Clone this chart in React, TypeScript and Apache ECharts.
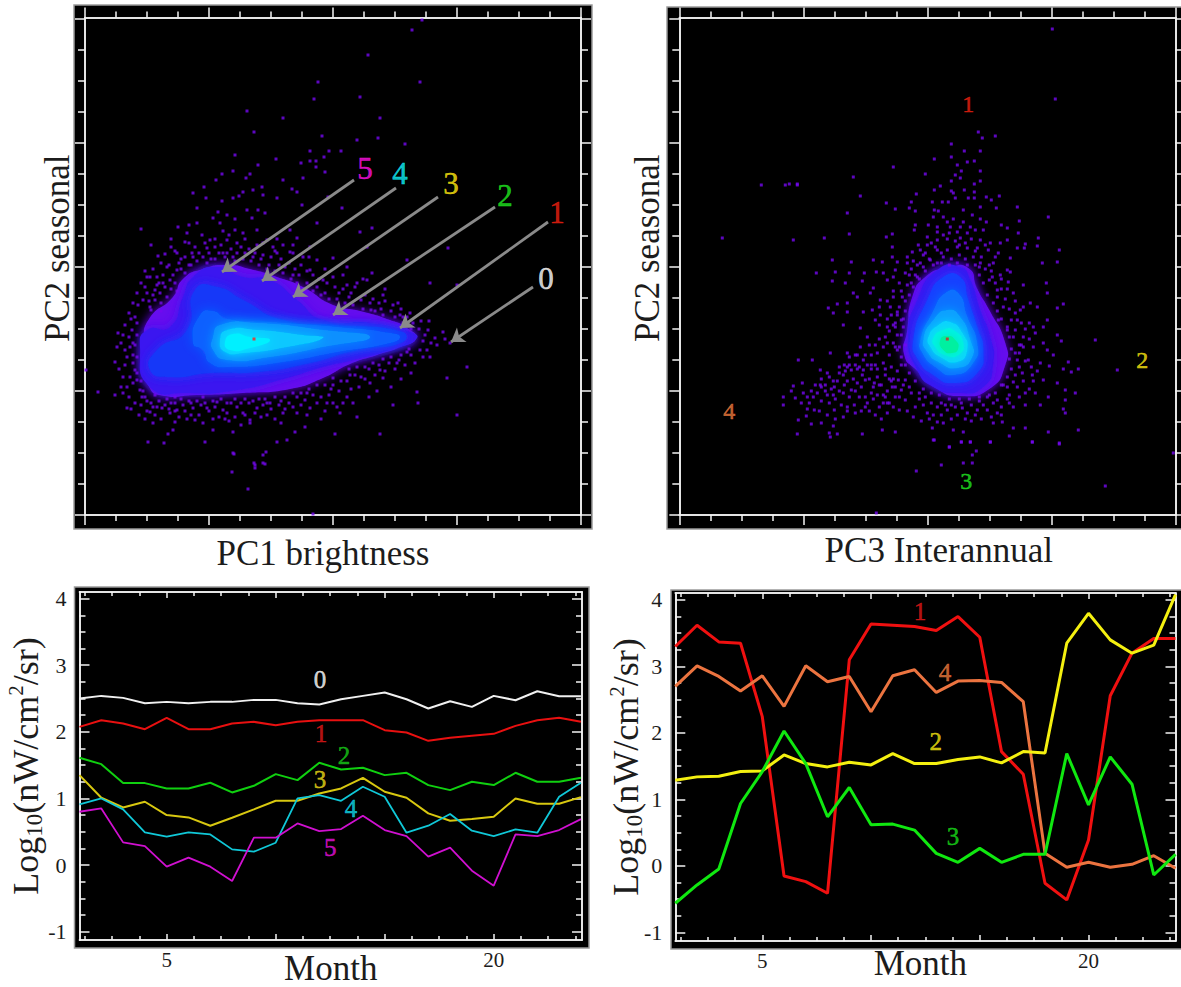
import React, { useEffect, useRef } from "react";
import * as echarts from "echarts";

const SERIF = "Liberation Serif";
const INK = "#1c1c1c";
const DOT = "#7408f0";

// ---- bottom panels: months and values ----
const months = [1, 2, 3, 4, 5, 6, 7, 8, 9, 10, 11, 12, 13, 14, 15, 16, 17, 18, 19, 20, 21, 22, 23, 24];
const c0 = [2.5, 2.54, 2.51, 2.43, 2.45, 2.43, 2.45, 2.45, 2.48, 2.48, 2.43, 2.41, 2.49, 2.54, 2.59, 2.49, 2.35, 2.46, 2.375, 2.54, 2.475, 2.61, 2.535, 2.535];
const c1 = [2.075, 2.175, 2.125, 2.04, 2.21, 2.04, 2.04, 2.125, 2.15, 2.1, 2.15, 2.175, 2.175, 2.175, 2.025, 1.99, 1.865, 1.91, 1.94, 1.97, 2.09, 2.175, 2.21, 2.15];
const c2 = [1.61, 1.515, 1.23, 1.23, 1.15, 1.15, 1.235, 1.09, 1.19, 1.365, 1.275, 1.535, 1.435, 1.46, 1.35, 1.385, 1.2, 1.125, 1.25, 1.2, 1.385, 1.25, 1.25, 1.31];
const c3 = [1.35, 1.01, 0.865, 0.95, 0.75, 0.715, 0.59, 0.71, 0.835, 0.965, 0.965, 1.075, 1.15, 1.31, 1.1, 1.01, 0.775, 0.665, 0.69, 0.725, 1.0, 0.92, 0.92, 1.02];
const c4 = [0.91, 1.0, 0.835, 0.49, 0.425, 0.49, 0.46, 0.235, 0.2, 0.335, 1.0, 1.05, 0.965, 1.175, 1.025, 0.485, 0.59, 0.765, 0.515, 0.435, 0.535, 0.485, 1.025, 1.235];
const c5 = [0.8, 0.85, 0.34, 0.285, -0.025, 0.11, -0.025, -0.24, 0.41, 0.41, 0.625, 0.51, 0.54, 0.74, 0.525, 0.435, 0.125, 0.26, -0.085, -0.31, 0.46, 0.435, 0.525, 0.69];
const d1 = [3.3, 3.62, 3.37, 3.35, 2.245, -0.15, -0.235, -0.41, 3.1, 3.64, 3.62, 3.6, 3.54, 3.75, 3.44, 1.72, 1.38, -0.26, -0.51, 0.39, 2.56, 3.2, 3.42, 3.42];
const d4 = [2.7, 3.01, 2.85, 2.63, 2.86, 2.4, 3.01, 2.77, 2.85, 2.32, 2.86, 2.95, 2.61, 2.78, 2.79, 2.76, 2.47, 0.19, -0.02, 0.055, -0.02, 0.025, 0.155, -0.035];
const d2 = [1.29, 1.34, 1.35, 1.42, 1.43, 1.67, 1.54, 1.49, 1.56, 1.52, 1.69, 1.54, 1.54, 1.6, 1.64, 1.55, 1.72, 1.7, 3.35, 3.8, 3.4, 3.2, 3.32, 4.08];
const d3 = [-0.56, -0.285, -0.045, 0.94, 1.42, 2.03, 1.54, 0.74, 1.18, 0.62, 0.63, 0.54, 0.19, 0.055, 0.265, 0.055, 0.175, 0.175, 1.69, 0.92, 1.64, 1.23, -0.135, 0.175];

const monthMajor = [5, 10, 15, 20];
const monthMinor = [1.25, 2.5, 3.75, 6.25, 7.5, 8.75, 11.25, 12.5, 13.75, 16.25, 17.5, 18.75, 21.25, 22.5, 23.75];
const monthLabels = [5, 20];
const logMajor = [-1, 0, 1, 2, 3, 4];
const logMinor = [-0.75, -0.5, -0.25, 0.25, 0.5, 0.75, 1.25, 1.5, 1.75, 2.25, 2.5, 2.75, 3.25, 3.5, 3.75];

// ---- top panels: score ticks (arbitrary units) ----
const scoreMajor = [0, 124, 248, 372, 496];
const scoreMinor = [31, 62, 93, 155, 186, 217, 279, 310, 341, 403, 434, 465];

// ---- density levels read from the cloud ----
const levelColorsA = ["#6610ee", "#3a18f0", "#1438f8", "#0a60ff", "#0a90ff", "#08c8ff", "#00f0ff"];
const levelsA = [
  [[58,172],[64,196],[88,218],[98,236],[118,246],[142,250],[165,246],[192,238],[218,228],[248,210],[275,204],[305,195],[322,187],[331,177],[318,169],[292,160],[265,151],[238,137],[205,126],[158,122],[112,120],[74,120],[63,130],[56,148]],
  [[55,168],[62,185],[85,188],[98,218],[108,238],[132,248],[158,238],[185,235],[212,215],[238,195],[285,192],[318,185],[332,177],[305,165],[268,155],[238,148],[202,137],[152,125],[102,122],[65,128]],
  [[72,165],[102,185],[110,225],[132,228],[158,215],[198,195],[252,190],[318,183],[318,173],[272,165],[225,152],[172,143],[125,142],[85,138],[65,145]],
  [[108,172],[115,200],[128,204],[142,196],[185,193],[252,188],[305,182],[315,178],[305,172],[252,163],[198,153],[145,148],[125,152],[118,165]],
  [[128,178],[135,190],[172,192],[238,185],[285,178],[238,168],[185,158],[142,155],[128,165]],
  [[135,175],[142,185],[172,185],[218,180],[238,177],[202,168],[158,162],[140,163]],
  [[140,173],[148,181],[165,178],[185,175],[165,167],[145,165]],
];
const levelColorsB = ["#6610ee", "#3a18f0", "#1440ff", "#0a70ff", "#0aa0ff", "#08d0ff", "#00f0e8", "#00f0a0"];
const levelsB = [
  [[228,185],[233,218],[246,238],[268,247],[289,247],[298,226],[310,205],[326,172],[326,150],[310,126],[281,119],[258,126],[237,145],[225,160]],
  [[229,178],[238,215],[258,245],[281,248],[291,235],[301,205],[311,178],[314,152],[304,128],[278,122],[254,128],[238,145]],
  [[234,175],[248,215],[264,238],[281,238],[289,215],[298,188],[304,165],[298,142],[274,132],[254,140],[239,155]],
  [[241,175],[253,202],[266,222],[279,222],[288,198],[298,172],[294,152],[274,140],[256,148],[243,162]],
  [[244,175],[254,195],[268,205],[281,198],[291,175],[293,158],[278,147],[259,153],[248,163]],
  [[249,178],[259,190],[271,193],[283,182],[288,165],[278,153],[261,158],[251,168]],
  [[254,177],[264,185],[274,185],[284,172],[279,160],[266,160],[256,168]],
  [[261,175],[268,179],[276,175],[279,167],[273,162],[264,165]],
];

// ---- individual sparse pixels read from the clouds ----
const pointsA = [[337,495],[327,485],[283,460],[233,433],[335,433],[275,418],[229,416],[162,404],[198,397],[295,397],[169,383],[237,379],[272,375],[293,377],[320,371],[225,364],[244,364],[256,364],[150,360],[239,358],[191,356],[225,354],[231,354],[216,352],[173,350],
[231,348],[240,343],[148,344],[137,341],[131,335],[161,337],[165,341],[198,335],[218,337],[207,326],[212,323],[119,328],[108,322],[158,323],[168,325],[177,328],[178,320],[148,317],[121,317],[154,319],[192,317],[243,318],[137,314],[173,305],[162,305],[180,302],[112,307],[133,303],[142,300],[167,297],[217,310],[232,292],[257,307],[56,286],[93,288],[128,297],[112,292],[135,292],[150,285],[158,282],[172,285],[205,285],[212,277],[287,287],[275,283],[102,282],[100,273],[117,280],[125,275],[142,275],[152,272],[182,275],[198,270],[225,268],[282,268],[363,267],[248,257],[73,259],[80,261],[92,262],[107,262],[122,267],[172,270],[188,268],[205,263],[218,258],[232,255],[262,248],[287,242],[322,255],[345,232],[372,230],[82,248],[92,245],[100,242],[85,235],[72,230],[62,238],[65,238],[60,228],[75,222],[53,210],[65,208],[225,245],[238,235],[248,238],[262,230],[270,228],[282,235],[298,220],[313,212],[325,202],[318,198],[285,212],[33,182],[47,185],[50,198],[48,172],[40,165],[45,168],[30,153],[1,145],[30,120],[13,123],[38,122],[45,138],[48,132],[42,107],[57,118],[65,103],[77,107],[85,102],[90,93],[98,110],[108,107],[110,95],[122,107],[132,113],[142,102],[152,108],[165,95],[158,102],[172,107],[185,112],[198,102],[212,102],[225,107],[242,112],[255,102],[272,98],[262,118],[248,137],[265,140],[285,132],[298,137],[308,110],[332,123],[333,112],[362,137],[372,100],[382,148],[350,177],[358,183],[343,185],[365,172],[342,165],[345,158],[335,165],[322,163],[312,152],[295,145],
[63,73],[79,72],[88,85],[83,81],[120,73],[128,85],[148,83],[165,92],[192,73],[202,75],[220,88],[210,83],[250,81],[295,81],[148,62],[181,63],[178,60],[169,52],[178,52],[163,26],[228,1],[147,43],[170,50],[170,47],[180,51],[149,61],
[58,215],[62,222],[70,225],[74,232],[80,228],[88,240],[94,252],[100,258],[108,258],[114,262],[124,262],[130,268],[138,262],[146,266],[152,262],[160,262],[168,258],[176,256],[184,250],[194,250],[200,248],[208,240],[214,240],[222,232],[232,228],[240,222],[254,222],[264,218],[276,215],[286,205],[296,206],[306,204],[315,200],[48,160],[50,145],[52,135],[55,125],[60,118],[66,112],[72,108],[80,110],[86,112],[92,105],[100,104],[106,112],[116,110],[124,104],[130,108],[138,105],[146,112],[156,112],[164,112],[170,102],[178,110],[186,106],[194,110],[204,112],[212,118],[220,115],[228,120],[236,118],[246,126],[254,124],[262,134],[270,140],[276,138],[284,146],[294,150],[304,152],[314,155],[326,160],
[70,215],[76,212],[66,205],[72,238],[78,240],[86,226],[90,232],[84,250],[96,256],[90,264],[104,250],[110,268],[118,258],[126,256],[134,262],[142,262],[136,270],[148,258],[156,268],[164,266],[170,262],[178,260],[186,258],[190,264],[196,256],[204,252],[210,246],[216,250],[222,244],[228,240],[234,236],[242,232],[250,228],[258,226],[266,222],[272,232],[280,220],[288,216],[294,212],[300,214],[308,210],[316,206],[322,198],[328,192],[334,186],[340,180],[346,172],[338,174],[130,276],[144,280],[160,276],[178,272],[192,262],[208,270],[120,272],[104,272],[86,268],[76,252],[68,246],[60,244],[56,232],[52,222],[48,212],[44,202],[52,192],[40,190],[44,178],[36,172],[42,158],[34,146],[38,138],[42,128],[44,118],[50,112],[56,110],[62,104],[70,100],[76,96],[84,106],[94,98],[102,96],[114,100],[118,92],[128,96],[134,98],[144,94],[150,98],[160,100],[176,98],[182,100],[190,96],[200,106],[208,108],[216,110],[222,100],[232,112],[240,104],[248,112],[258,112],[266,126],[274,128],[280,136],[290,140],[300,144],[310,146],[320,150],[330,152],[338,158],[118,118],[90,118],[70,120],[180,116],[200,118],[222,122],
[64,214],[68,220],[82,218],[92,224],[96,246],[106,250],[112,254],[122,252],[130,256],[140,258],[150,254],[158,256],[166,254],[174,250],[182,246],[190,244],[198,242],[206,236],[212,232],[220,226],[228,224],[236,220],[244,216],[252,216],[260,212],[268,210],[278,206],[290,204],[298,200],[310,198],[318,192],[326,186],[52,180],[50,170],[52,158],[48,152],[52,142],[56,134],[58,124],[62,114],[68,108],[74,114],[82,116],[90,112],[96,116],[104,114],[112,114],[120,112],[128,114],[136,116],[142,112],[150,116],[160,116],[168,114],[174,116],[182,112],[190,118],[196,114],[208,122],[216,122],[224,126],[232,130],[240,130],[248,130],[256,134],[264,146],[272,148],[280,148],[288,152],[298,156],[306,158],[316,160],[324,166],[76,204],[78,232],[46,196],[38,180],[32,168],[40,150],[36,128],[46,106],[54,100],[60,96],[68,92],[90,104],[106,100],[140,96],[156,90],[196,92],[236,96],[244,120],[252,108],[268,112],[284,118],[292,124],[316,136],[326,142],[306,128],[352,170],[360,176],[336,194],[344,194],[300,226],[278,236],[258,240],[240,246],[224,258],[208,262],[192,276],[150,296],[138,284],[104,290],[86,276],[66,270]];

const pointsB = [[299,383],[303,377],[316,379],[272,371],[285,364],[301,364],[255,356],[272,358],[278,350],[288,353],[295,354],[214,348],[301,344],[282,344],[276,340],[246,341],[174,338],[281,337],[272,334],[301,334],[295,331],[110,331],[118,331],[285,325],[261,329],[255,325],[272,324],[295,323],[237,321],[181,319],[274,322],[307,318],[320,319],[289,317],[295,317],[276,317],[312,315],[232,313],[207,312],[253,313],[263,313],[269,313],[301,308],[338,308],[317,307],[216,306],[230,307],[236,304],[259,304],[255,305],[284,305],[293,300],[168,302],[369,298],[254,298],[264,298],[274,296],[284,293],[301,296],[340,294],[307,293],[236,290],[249,290],[268,293],[258,288],[271,288],[281,288],[291,288],[322,290],[328,287],[235,285],[258,283],[264,280],[278,283],[288,282],[296,285],[304,285],[339,282],[170,281],[207,278],[213,281],[145,277],[114,275],[248,278],[258,275],[281,277],[301,275],[328,275],[346,271],[359,277],[380,265],[358,269],[321,272],[311,272],[239,270],[248,270],[213,268],[233,263],[241,265],[258,265],[268,265],[278,268],[288,267],[298,267],[309,265],[319,262],[331,257],[338,267],[345,267],[153,255],[172,253],[194,255],[203,253],[213,258],[218,253],[228,252],[241,252],[251,255],[301,252],[314,252],[328,245],[363,252],[378,253],[137,242],[156,243],[170,242],[185,242],[197,243],[204,242],[216,245],[226,242],[153,234],[166,232],[183,234],[194,227],[208,235],[214,238],[313,238],[321,240],[331,243],[329,233],[344,230],[367,232],[174,222],[149,207],[158,211],[168,212],[178,218],[191,222],[201,215],[214,218],[223,218],[184,203],[193,205],[201,200],[211,208],[218,203],[168,203],[154,202],[164,190],[181,187],[196,195],[208,188],[216,188],[318,218],[334,222],[341,205],[351,212],[368,222],[384,211],[378,207],[358,208],[338,195],[354,188],[368,195],[364,188],[319,195],[328,185],[334,178],[344,178],[356,182],[378,180],[382,174],[364,172],[368,165],[374,160],[354,168],[344,168],[336,162],[349,155],[361,152],[370,149],[384,146],[389,153],[392,143],[399,146],[343,142],[353,140],[364,135],[378,132],[334,133],[328,128],[356,122],[369,118],[386,125],[396,122],[386,115],[361,110],[346,110],[384,106],[386,102],[334,108],[318,102],[308,105],[298,105],[283,107],[268,105],[258,108],[248,102],[236,108],[220,105],[323,93],[314,92],[334,87],[346,87],[353,73],[369,83],[399,85],[380,72],[330,79],[311,73],[291,73],[282,73],[270,68],[255,75],[284,83],[274,85],[264,92],[258,93],[253,87],[216,83],[203,85],[183,81],[158,81],[150,82],[151,78],[118,81],[154,89],[142,92],[132,91],[119,95],[127,99],[135,105],[128,118],[116,117],[104,118],[104,110],[124,122],[114,129],[123,132],[141,130],[119,155],[133,155],[141,145],[151,162],[168,162],[181,168],[190,170],[198,162],[208,172],[216,168],
[254,75],[270,68],[282,73],[291,73],[311,73],[353,73],[380,71],[297,64],[293,60],[284,52],[293,52],[262,50],[237,44],[426,29],[197,2],[494,62],[373,486],[376,416],[82,330],[106,330],[118,330],[43,277],[438,145],[416,175],
[146,130],[150,138],[155,128],[160,148],[165,150],[170,158],[172,145],[176,160],[180,148],[184,155],[188,150],[192,146],[195,132],[198,138],[202,130],[206,118],[210,112],[213,128],[216,118],[219,135],[222,125],[226,115],[150,112],[155,105],[162,110],[168,104],[175,110],[182,104],[188,112],[194,116],[200,108],[165,130],[172,125],[178,132],[186,135],[192,122],
[226,170],[222,150],[218,180],[232,232],[238,238],[222,195],[218,165],[226,135],[230,128],[240,122],[246,118],[252,112],[262,112],[272,110],[282,112],[292,110],[300,114],[308,118],[318,115],[324,130],[330,120],[336,140],[338,155],[340,170],[336,185],[332,195],[324,208],[318,225],[310,235],[300,248],
[212,200],[216,192],[210,184],[206,178],[214,172],[210,160],[204,152],[212,148],[206,140],[214,136],[218,144],[224,196],[220,208],[226,214],[222,224],[228,230],[236,240],[244,248],[232,246],[250,256],[258,252],[264,258],[272,256],[280,260],[286,256],[294,258],[302,258],[306,246],[310,250],[316,232],[322,226],[326,216],[330,206],[336,202],[342,192],[346,186],[350,176],[340,162],[346,154],[352,148],[340,148],[344,134],[338,128],[350,126],[330,112],[322,108],[314,112],[304,110],[296,100],[288,102],[278,100],[272,96],[262,100],[254,100],[244,110],[240,116],[232,122],[224,130],[216,128],[208,124],[204,120],[212,134],[262,262],[276,274],[286,272],[252,272],[270,282],[292,276],[244,260],[234,254],[228,258],[306,270],[316,258],[196,170],[188,178],[200,176],[192,160],[184,145],[178,160],[170,150],[164,140],[158,134],[152,126],[148,120],[142,114],[138,122],[134,118],[130,112],[140,104],[148,100],[156,116],[164,122],[170,118],[176,124],[182,128],[186,118],[194,128],[198,120],[204,112],[208,102],[214,108],[178,146],[183,140],[174,136],[168,134],[160,124],[154,134],[148,142],[142,136],[166,144],[190,136],[198,146],[206,146],[210,136],[186,108],[176,102],[164,98],[196,100],[156,96],
[222,180],[224,188],[218,200],[226,204],[230,220],[234,228],[240,236],[246,244],[254,250],[262,252],[270,250],[278,252],[288,250],[296,250],[300,240],[304,232],[308,220],[314,212],[318,204],[322,196],[328,188],[330,178],[332,166],[330,156],[332,146],[328,138],[322,130],[316,122],[310,120],[300,118],[290,116],[280,116],[270,116],[260,120],[252,122],[244,126],[236,134],[230,142],[226,150],[222,158],[220,168],[214,190],[208,196],[200,190],[204,168],[196,150],[200,130],[192,150],[186,160],[176,150],[168,148],[160,142],[154,120],[146,124],[142,128],[136,130],[132,124],[128,106],[122,112],[112,124],[168,108],[180,118],[190,104],[202,96],[208,112],[220,118],[228,104],[234,98],[242,94],[250,96],[266,110],[276,108],[286,96],[292,94],[302,96],[312,98],[322,100],[328,116],[340,118],[346,122],[354,134],[358,144],[342,170],[350,192],[344,208],[336,214],[328,226],[322,236],[312,244],[296,264],[280,270],[268,276],[256,268],[246,262],[238,250],[230,240],[220,232],[214,224],[208,214],[200,208]];

const peakA = [[169, 176]];
const peakB = [[268, 176]];

// ---- arrows and numbered labels ----
const arrowsA = [
  [[269, 335], [137, 243]],
  [[311, 327], [177, 234]],
  [[353, 318], [208, 218]],
  [[410, 308], [248, 200]],
  [[463, 293], [315, 187]],
  [[448, 228], [366, 173]],
];
const labelsA = [[280, 347, "5", "#ff10e0"], [315, 342, "4", "#10f0f8"], [366, 332, "3", "#ffe810"], [420, 320, "2", "#20e820"], [472, 303, "1", "#f02010"], [461, 237, "0", "#ffffff"]];
const labelsB = [[289, 411, "1", "#e82010"], [463, 155, "2", "#f4e010"], [50, 104, "4", "#e8783c"], [287, 34, "3", "#20e020"]];
const labelsC = [[12.03, 2.78, "0", "#ffffff"], [12.08, 1.98, "1", "#e01818"], [13.13, 1.65, "2", "#18c818"], [12.03, 1.29, "3", "#e8d818"], [13.45, 0.85, "4", "#10d8e8"], [12.5, 0.27, "5", "#e010d8"]];
const labelsD = [[12.25, 3.82, "1", "#e01818"], [13.4, 2.91, "4", "#e8783c"], [12.98, 1.87, "2", "#f0e010"], [13.77, 0.44, "3", "#18d818"]];

function axisSet(kind: "x" | "y", g: number, min: number, max: number, major: number[], minor: number[], inside: boolean, lenMajor: number, lenMinor: number, main: any) {
  const pos = kind === "x" ? ["bottom", "top"] : ["left", "right"];
  const out: any[] = [];
  pos.forEach((position) => {
    [[major, lenMajor], [minor, lenMinor]].forEach(([vals, len]: any, i) => {
      const first = position === pos[0] && i === 0;
      out.push({
        type: "value", gridIndex: g, position, min, max, scale: true,
        splitLine: { show: false }, minorTick: { show: false },
        axisLine: { show: true, onZero: false, lineStyle: { color: "#f4f4f4", width: 1.5 } },
        axisTick: { show: true, inside, length: len, customValues: vals, lineStyle: { color: "#f4f4f4", width: 1.5 } },
        axisLabel: { show: false },
        ...(first ? main : {}),
      });
    });
  });
  return out;
}

const nameStyle = { fontFamily: SERIF, color: INK };
const tickText = { show: true, fontFamily: SERIF, color: INK, fontSize: 22 };
const logName = "{a|Log}{s|10}{a|(nW/cm}{u|2}{a|/sr)}";
const logRich = {
  a: { fontFamily: SERIF, fontSize: 36, color: INK, lineHeight: 40 },
  s: { fontFamily: SERIF, fontSize: 23, color: INK, lineHeight: 40, verticalAlign: "bottom", padding: [14, 0, 0, 0] },
  u: { fontFamily: SERIF, fontSize: 21, color: INK, lineHeight: 40, verticalAlign: "top", padding: [0, 0, 10, 0] },
};

function labelSeries(rows: any[], ax: number, size: number) {
  return {
    type: "scatter", xAxisIndex: ax, yAxisIndex: ax, symbolSize: 0, silent: true, z: 9,
    data: rows.map((r) => ({
      value: [r[0], r[1]],
      label: { show: true, position: "inside", formatter: r[2], color: r[3], fontFamily: SERIF, fontSize: size, textBorderWidth: 0.5, textBorderColor: r[3] },
    })),
  };
}

function densitySeries(levels: number[][][], colors: string[], ax: number) {
  return {
    type: "custom", xAxisIndex: ax, yAxisIndex: ax, silent: true, z: 3, clip: true,
    data: levels.map((_, i) => [i]),
    encode: { x: [], y: [] },
    renderItem: (params: any, api: any) => {
      const i = api.value(0);
      return {
        type: "polygon",
        shape: { points: levels[i].map((p) => api.coord(p)), smooth: 0.6 },
        style: { fill: colors[i], shadowBlur: 11, shadowColor: colors[i] },
      };
    },
  };
}

function dotSeries(pts: number[][], ax: number, color = DOT, size = 3) {
  return { type: "scatter", xAxisIndex: ax, yAxisIndex: ax, symbol: "rect", symbolSize: size, silent: true, z: 4, itemStyle: { color }, data: pts };
}

function lineSeries(vals: number[], color: string, width: number, ax: number) {
  return {
    type: "line", xAxisIndex: ax, yAxisIndex: ax, showSymbol: false, silent: true, z: 5,
    lineStyle: { color, width }, data: months.map((m, i) => [m, vals[i]]),
  };
}

function frame(x: number, y: number, w: number, h: number) {
  return { type: "rect", z: -1, shape: { x, y, width: w, height: h }, style: { fill: "#000000", stroke: "#9a9a9a", lineWidth: 1.5 } };
}

export default function App() {
  const ref = useRef<HTMLDivElement>(null);
  useEffect(() => {
    const chart = echarts.init(ref.current!, undefined, { renderer: "svg" });
    const xAxis = [
      ...axisSet("x", 0, 0, 496, scoreMajor, scoreMinor, false, 10, 6, { name: "PC1 brightness", nameLocation: "middle", nameGap: 21, nameMoveOverlap: false, nameTextStyle: { ...nameStyle, fontSize: 35, padding: [0, 20, 0, 0] } }),
      ...axisSet("x", 1, 0, 496, scoreMajor, scoreMinor, false, 10, 6, { name: "PC3 Interannual", nameLocation: "middle", nameGap: 18, nameMoveOverlap: false, nameTextStyle: { ...nameStyle, fontSize: 35, padding: [0, 0, 0, 23] } }),
      ...axisSet("x", 2, 1, 24.05, monthMajor, monthMinor, true, 6, 4, { name: "Month", nameLocation: "middle", nameGap: 11, nameMoveOverlap: false, nameTextStyle: { ...nameStyle, fontSize: 35 }, axisLabel: { ...tickText, fontSize: 21, margin: 9, customValues: monthLabels } }),
      ...axisSet("x", 3, 1, 24, monthMajor, monthMinor, true, 6, 4, { name: "Month", nameLocation: "middle", nameGap: 5, nameMoveOverlap: false, nameTextStyle: { ...nameStyle, fontSize: 35, padding: [0, 10, 0, 0] }, axisLabel: { ...tickText, fontSize: 21, margin: 9, customValues: monthLabels } }),
    ];
    const yAxis = [
      ...axisSet("y", 0, 0, 497.5, scoreMajor, scoreMinor, false, 10, 7, { name: "PC2 seasonal", nameLocation: "middle", nameRotate: 90, nameGap: 10, nameMoveOverlap: false, nameTextStyle: { ...nameStyle, fontSize: 35, padding: [0, 0, 0, 36] } }),
      ...axisSet("y", 1, 0, 497.5, scoreMajor, scoreMinor, false, 10, 7, { name: "PC2 seasonal", nameLocation: "middle", nameRotate: 90, nameGap: 14, nameMoveOverlap: false, nameTextStyle: { ...nameStyle, fontSize: 35, padding: [0, 0, 0, 36] } }),
      ...axisSet("y", 2, -1.126, 4.1, logMajor, logMinor, true, 10, 6, { name: logName, nameLocation: "middle", nameRotate: 90, nameGap: 34, nameMoveOverlap: false, nameTextStyle: { rich: logRich }, axisLabel: { ...tickText, margin: 13, customValues: logMajor } }),
      ...axisSet("y", 3, -1.128, 4.105, logMajor, logMinor, true, 10, 6, { name: logName, nameLocation: "middle", nameRotate: 90, nameGap: 29, nameMoveOverlap: false, nameTextStyle: { rich: logRich }, axisLabel: { ...tickText, margin: 13, customValues: logMajor } }),
    ];
    chart.setOption({
      animation: false,
      backgroundColor: "#ffffff",
      grid: [
        { left: 85, top: 17.5, width: 496, height: 497.5, outerBoundsMode: "none" },
        { left: 679.3, top: 17.5, width: 496, height: 497.5, outerBoundsMode: "none" },
        { left: 79.5, top: 592, width: 502.5, height: 348, outerBoundsMode: "none" },
        { left: 675.3, top: 593, width: 500.2, height: 348, outerBoundsMode: "none" },
      ],
      xAxis,
      yAxis,
      graphic: {
        elements: [frame(74, 5, 518, 524), frame(667, 7, 520, 522), frame(74.5, 587, 514.5, 361), frame(671, 590, 516, 359)],
      },
      series: [
        densitySeries(levelsA, levelColorsA, 0),
        dotSeries(pointsA, 0),
        dotSeries(peakA, 0, "#ff2020"),
        {
          type: "lines", coordinateSystem: "cartesian2d", xAxisIndex: 0, yAxisIndex: 0, silent: true, z: 6,
          symbol: ["none", "arrow"], symbolSize: 13,
          lineStyle: { color: "#8a8a8a", width: 2.8, opacity: 1, curveness: 0 },
          data: arrowsA.map((coords) => ({ coords })),
        },
        labelSeries(labelsA, 0, 31),
        densitySeries(levelsB, levelColorsB, 4),
        dotSeries(pointsB, 4),
        dotSeries(peakB, 4, "#d82020"),
        labelSeries(labelsB, 4, 24),
        lineSeries(c0, "#f0f0f0", 2, 8),
        lineSeries(c1, "#e81010", 2, 8),
        lineSeries(c2, "#10d010", 2, 8),
        lineSeries(c3, "#d8c810", 2, 8),
        lineSeries(c4, "#10c8d8", 1.8, 8),
        lineSeries(c5, "#d010d0", 1.8, 8),
        labelSeries(labelsC, 8, 25),
        lineSeries(d1, "#f01010", 3, 12),
        lineSeries(d4, "#ec7440", 3, 12),
        lineSeries(d2, "#f4f010", 3, 12),
        lineSeries(d3, "#10e810", 3, 12),
        labelSeries(labelsD, 12, 25),
      ],
    });
    return () => chart.dispose();
  }, []);
  return <div ref={ref} style={{ position: "absolute", left: 0, top: 0, width: 1181, height: 987 }} />;
}
